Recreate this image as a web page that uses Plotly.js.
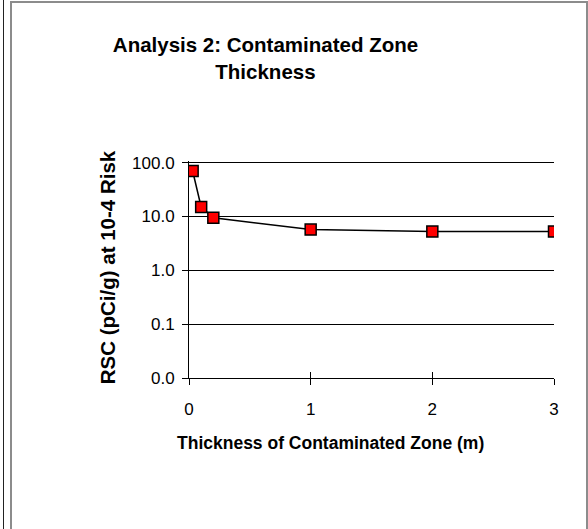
<!DOCTYPE html>
<html>
<head>
<meta charset="utf-8">
<script src="https://cdn.plot.ly/plotly-3.0.1.min.js"></script>
<style>
html,body{margin:0;padding:0;background:#fff;}
#wrap{position:relative;width:588px;height:529px;overflow:hidden;}
#chart{position:absolute;left:0;top:0;width:588px;height:529px;}
.bl{position:absolute;left:3px;top:0;width:1px;height:529px;background:#222;pointer-events:none;}
.box{position:absolute;left:10px;top:1px;width:574px;height:540px;border:2px solid #8c8c8c;pointer-events:none;}
</style>
</head>
<body>
<div id="wrap">
<div id="chart"></div>
<div class="bl"></div>
<div class="box"></div>
</div>
<script>
const thickness = [0.03, 0.1, 0.2, 1, 2, 3];
const rsc = [70, 15, 9.5, 5.7, 5.25, 5.25];
const yTickVals = [0.01, 0.1, 1, 10, 100];
const yTickText = ["0.0", "0.1", "1.0", "10.0", "100.0"];
const xTickVals = [0, 1, 2, 3];
const titleText = 'Analysis 2: Contaminated Zone<br>Thickness';
const xTitle = 'Thickness of Contaminated Zone (m)';
const yTitle = 'RSC (pCi/g) at 10-4 Risk';

const fontFam = '"Liberation Sans", Arial, sans-serif';

const trace = {
  x: thickness,
  y: rsc,
  type: 'scatter',
  mode: 'lines+markers',
  line: {color: '#000', width: 1.5},
  marker: {symbol: 'square', size: 11, color: '#ff0000', line: {color: '#000', width: 1.5}},
  showlegend: false,
  hoverinfo: 'x+y'
};

// helper trace that only carries the overlay x-axis (for crossing tick marks)
const tickCarrier = {
  x: thickness,
  y: rsc,
  xaxis: 'x2',
  yaxis: 'y',
  type: 'scatter',
  mode: 'none',
  showlegend: false,
  hoverinfo: 'skip'
};

const layout = {
  width: 588,
  height: 529,
  paper_bgcolor: '#fff',
  plot_bgcolor: '#fff',
  margin: {l: 189, r: 34, t: 161, b: 151, pad: 0},
  font: {family: fontFam, color: '#000', size: 17},
  title: {
    text: '<b>' + titleText + '</b>',
    font: {family: fontFam, size: 20.5, color: '#000'},
    xref: 'container', x: 0.4515, xanchor: 'center',
    yref: 'container', y: 0.901, yanchor: 'top'
  },
  xaxis: {
    range: [0, 3],
    tickvals: xTickVals,
    ticktext: xTickVals.map(String),
    ticks: 'outside', ticklen: 6, tickwidth: 1, tickcolor: '#000',
    ticklabelstandoff: 10,
    showline: true, linecolor: '#000', linewidth: 1,
    showgrid: false, zeroline: false,
    tickfont: {size: 17, color: '#000'}
  },
  xaxis2: {
    range: [0, 3],
    overlaying: 'x',
    anchor: 'y',
    side: 'bottom',
    tickvals: xTickVals,
    ticks: 'inside', ticklen: 6, tickwidth: 1, tickcolor: '#000',
    showticklabels: false, showline: false, showgrid: false, zeroline: false
  },
  yaxis: {
    type: 'log',
    range: [-2, 2.03],
    tickvals: yTickVals,
    ticktext: yTickText,
    ticks: 'outside', ticklen: 6, tickwidth: 1, tickcolor: '#000',
    ticklabelstandoff: 4,
    showline: true, linecolor: '#000', linewidth: 1,
    showgrid: true, gridcolor: '#000', gridwidth: 1,
    zeroline: false,
    tickfont: {size: 17, color: '#000'}
  },
  annotations: [
    {
      text: '<b>' + xTitle + '</b>',
      xref: 'paper', yref: 'paper',
      x: 0.389, y: -0.30, xanchor: 'center', yanchor: 'middle',
      showarrow: false, font: {size: 17.5, color: '#000'}
    },
    {
      text: '<b>' + yTitle + '</b>',
      xref: 'paper', yref: 'paper',
      x: -0.2247, y: 0.51, xanchor: 'center', yanchor: 'middle',
      textangle: -90,
      showarrow: false, font: {size: 20.5, color: '#000'}
    }
  ]
};

Plotly.newPlot('chart', [tickCarrier, trace], layout, {displayModeBar: false, staticPlot: true});
</script>
</body>
</html>
